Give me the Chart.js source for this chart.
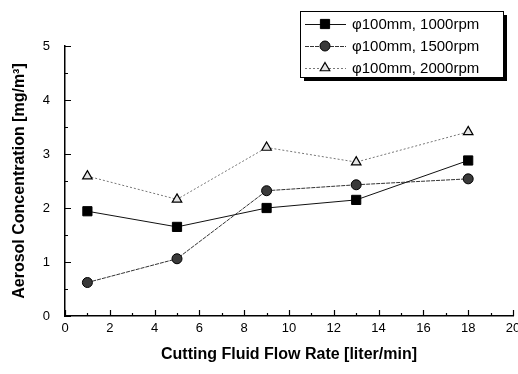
<!DOCTYPE html>
<html>
<head>
<meta charset="utf-8">
<script src="https://cdn.jsdelivr.net/npm/chart.js@4/dist/chart.umd.min.js"></script>
<style>
  html, body { margin: 0; padding: 0; background: #fff; overflow: hidden; }
  #wrap { width: 518px; height: 374px; overflow: hidden; }
</style>
</head>
<body>
<div id="wrap">
  <canvas id="myChart" width="540" height="374" style="width:540px;height:374px"></canvas>
</div>
<script>
    ///// data /////
    var flowRate = [1, 5, 9, 13, 18];
    var conc1000 = [1.94, 1.65, 2.00, 2.15, 2.88];
    var conc1500 = [0.62, 1.06, 2.32, 2.43, 2.54];
    var conc2000 = [2.59, 2.16, 3.12, 2.85, 3.41];
    var seriesLabels = ["\u03c6100mm, 1000rpm", "\u03c6100mm, 1500rpm", "\u03c6100mm, 2000rpm"];
    var xTicks = [0, 2, 4, 6, 8, 10, 12, 14, 16, 18, 20];
    var yTicks = [0, 1, 2, 3, 4, 5];

    var FONT = "'Liberation Sans', Arial, Helvetica, sans-serif";

    function toPoints(xs, ys) {
        var out = [];
        for (var i = 0; i < xs.length; i++) {
            out.push({x: xs[i], y: ys[i]});
        }
        return out;
    }

    ///// inward tick marks (major + minor) /////
    var tickMarks = {
        id: "tickMarks",
        afterDraw: function (chart) {
            var ctx = chart.ctx;
            var xs = chart.scales.x, ys = chart.scales.y;
            var area = chart.chartArea;
            ctx.save();
            ctx.strokeStyle = "#000";
            ctx.lineWidth = 1.2;
            ctx.beginPath();
            for (var v = 0; v <= 20; v++) {
                var px = Math.round(xs.getPixelForValue(v)) + 0.5;
                var len = (v % 2 === 0) ? 6 : 3;
                ctx.moveTo(px, area.bottom);
                ctx.lineTo(px, area.bottom - len);
            }
            for (var w = 0; w <= 10; w++) {
                var py = Math.round(ys.getPixelForValue(w / 2)) + 0.5;
                var l2 = (w % 2 === 0) ? 6 : 3;
                ctx.moveTo(area.left, py);
                ctx.lineTo(area.left + l2, py);
            }
            ctx.stroke();
            ctx.restore();
        }
    };

    ///// boxed legend with drop shadow /////
    var boxLegend = {
        id: "boxLegend",
        afterDraw: function (chart) {
            var ctx = chart.ctx;
            var bx = 300, by = 11, bw = 203, bh = 66;
            ctx.save();
            ctx.fillStyle = "#000";
            ctx.fillRect(bx + 4, by + 4, bw, bh);
            ctx.fillStyle = "#fff";
            ctx.fillRect(bx, by, bw, bh);
            ctx.strokeStyle = "#000";
            ctx.lineWidth = 1;
            ctx.strokeRect(bx + 0.5, by + 0.5, bw, bh);

            var rows = [24, 46, 68];
            chart.data.datasets.forEach(function (ds, i) {
                var y = rows[i];
                ctx.save();
                ctx.strokeStyle = ds.borderColor;
                ctx.lineWidth = ds.borderWidth;
                ctx.setLineDash(ds.borderDash || []);
                ctx.beginPath();
                ctx.moveTo(305, y + 0.5);
                ctx.lineTo(346, y + 0.5);
                ctx.stroke();
                ctx.restore();
                ctx.save();
                ctx.fillStyle = ds.pointBackgroundColor;
                ctx.strokeStyle = ds.pointBorderColor;
                ctx.lineWidth = ds.pointBorderWidth;
                Chart.helpers.drawPoint(ctx, {pointStyle: ds.pointStyle, radius: ds.pointRadius, borderWidth: ds.pointBorderWidth}, 325, y);
                ctx.restore();
                ctx.fillStyle = "#000";
                ctx.font = "15px " + FONT;
                ctx.textBaseline = "middle";
                ctx.textAlign = "left";
                ctx.fillText(ds.label, 352, y + 1);
            });
            ctx.restore();
        }
    };

    var ctx = document.getElementById("myChart").getContext("2d");
    var myChart = new Chart(ctx, {
        type: "scatter",
        data: {
            datasets: [{
                label: seriesLabels[0],
                data: toPoints(flowRate, conc1000),
                showLine: true,
                borderColor: "#111",
                borderWidth: 1,
                pointStyle: "rect",
                pointRadius: 6.5,
                pointBackgroundColor: "#000",
                pointBorderColor: "#000",
                pointBorderWidth: 1
            }, {
                label: seriesLabels[1],
                data: toPoints(flowRate, conc1500),
                showLine: true,
                borderColor: "#333",
                borderWidth: 1,
                borderDash: [4, 1],
                pointStyle: "circle",
                pointRadius: 5,
                pointBackgroundColor: "#3a3a3a",
                pointBorderColor: "#000",
                pointBorderWidth: 1
            }, {
                label: seriesLabels[2],
                data: toPoints(flowRate, conc2000),
                showLine: true,
                borderColor: "#777",
                borderWidth: 1,
                borderDash: [2, 2],
                pointStyle: "triangle",
                pointRadius: 5.5,
                pointBackgroundColor: "#e4e4e4",
                pointBorderColor: "#000",
                pointBorderWidth: 1.2
            }]
        },
        options: {
            responsive: false,
            animation: false,
            devicePixelRatio: 1,
            layout: {padding: {top: 46, right: 27, left: 0, bottom: 0}},
            plugins: {
                legend: {display: false},
                tooltip: {enabled: false}
            },
            scales: {
                x: {
                    type: "linear",
                    min: 0,
                    max: 20,
                    afterBuildTicks: function (scale) {
                        scale.ticks = xTicks.map(function (v) { return {value: v}; });
                    },
                    grid: {display: false, drawTicks: false},
                    border: {display: true, color: "#000", width: 1.5},
                    ticks: {color: "#000", padding: 5, maxRotation: 0, font: {family: FONT, size: 13}},
                    title: {
                        display: true,
                        text: "Cutting Fluid Flow Rate [liter/min]",
                        color: "#000",
                        font: {family: FONT, size: 16, weight: "bold"},
                        padding: {top: 0, bottom: 10}
                    },
                    afterFit: function (scale) { scale.height = 58; }
                },
                y: {
                    min: 0,
                    max: 5,
                    afterBuildTicks: function (scale) {
                        scale.ticks = yTicks.map(function (v) { return {value: v}; });
                    },
                    grid: {display: false, drawTicks: false},
                    border: {display: true, color: "#000", width: 1.5},
                    ticks: {color: "#000", padding: 15, font: {family: FONT, size: 13}},
                    title: {
                        display: true,
                        text: "Aerosol Concentration [mg/m\u00b3]",
                        color: "#000",
                        font: {family: FONT, size: 16, weight: "bold"},
                        padding: {top: 10, bottom: 0}
                    },
                    afterFit: function (scale) { scale.width = 65; }
                }
            }
        },
        plugins: [tickMarks, boxLegend]
    });
</script>
</body>
</html>
